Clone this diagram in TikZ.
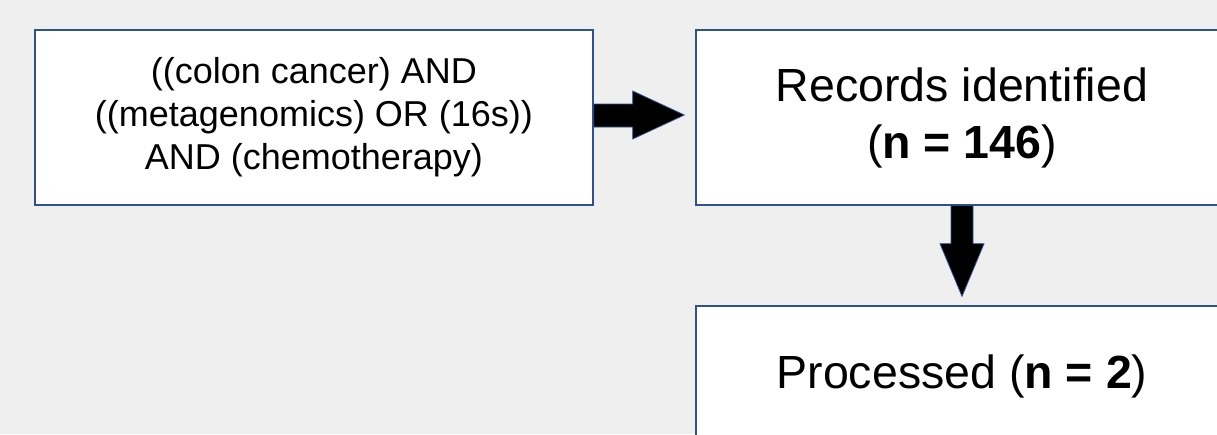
\documentclass[tikz,border=0pt]{standalone}
\usepackage{fontspec}
\setmainfont{Liberation Sans}
\usetikzlibrary{calc}
\definecolor{bg}{HTML}{EFEFEF}
\definecolor{edge}{HTML}{2F528F}
\tikzset{
  box/.style={draw=edge, line width=1.4pt, fill=white, inner sep=0pt, align=center, anchor=center},
  blockarrow/.style={draw=edge, line width=0.8pt, fill=black, line join=miter}
}
\begin{document}
\begin{tikzpicture}[x=1pt,y=-1pt]
\useasboundingbox (0,0) rectangle (1217,434);
\clip (0,0) rectangle (1217,434);
\fill[bg] (0,0) rectangle (1217,434);
\node[box, minimum width=558pt, minimum height=175pt, font=\fontsize{36}{43}\selectfont] (q) at (314,117.5)
  {((colon cancer) AND\\((metagenomics) OR (16s))\\AND (chemotherapy)};
\node[box, minimum width=532pt, minimum height=175pt, font=\fontsize{46.5}{57}\selectfont] (r) at (962,117.5)
  {Records identified\\(\textbf{n = 146})};
\node[box, minimum width=532pt, minimum height=141pt, font=\fontsize{46.5}{57}\selectfont] (p) at (962,376.5)
  {Processed (\textbf{n = 2})};
% right block arrow from q to r
\draw[blockarrow] ($(q.east)+(0,-13.5)$) -- ($(q.east)+(39,-13.5)$) -- ($(q.east)+(39,-26.5)$)
  -- ($(r.west)+(-11,-2.5)$) -- ($(q.east)+(39,21.5)$) -- ($(q.east)+(39,9.5)$)
  -- ($(q.east)+(0,9.5)$) -- cycle;
% down block arrow from r to p
\draw[blockarrow] ($(r.south)+(-11,0)$) -- ($(r.south)+(-11,38)$) -- ($(r.south)+(-22,38)$)
  -- ($(p.north)+(0,-9)$) -- ($(r.south)+(22,38)$) -- ($(r.south)+(11,38)$)
  -- ($(r.south)+(11,0)$) -- cycle;
\end{tikzpicture}
\end{document}
